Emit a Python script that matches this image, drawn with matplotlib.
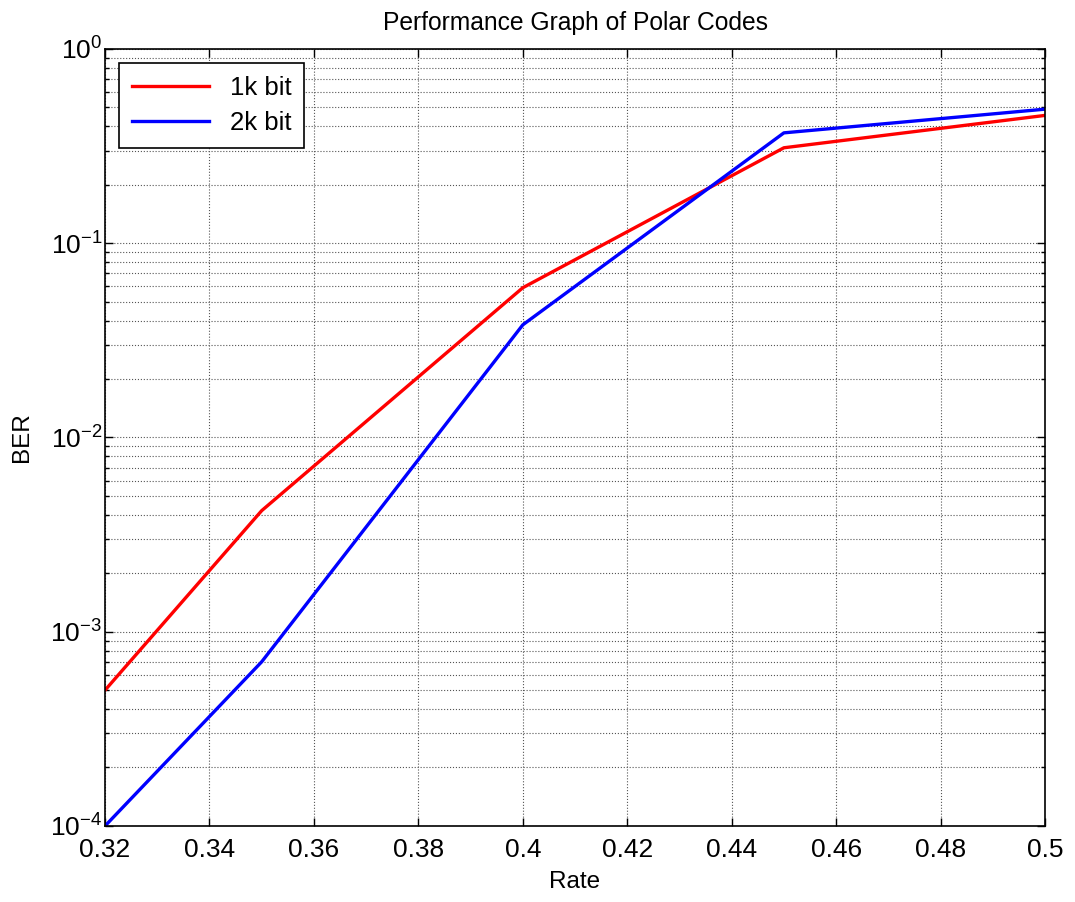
import matplotlib
matplotlib.use("Agg")
import matplotlib.pyplot as plt
from matplotlib.ticker import LogLocator, NullFormatter

plt.rcParams['font.family'] = ['Liberation Sans', 'DejaVu Sans']
plt.rcParams['mathtext.fontset'] = 'custom'
plt.rcParams['mathtext.rm'] = 'Liberation Sans'

# data
rate = [0.32, 0.35, 0.40, 0.45, 0.50]
ber_1k = [5.0e-4, 4.2e-3, 5.9e-2, 0.31, 0.455]
ber_2k = [1.0e-4, 7.0e-4, 3.8e-2, 0.37, 0.49]
xticks = [0.32, 0.34, 0.36, 0.38, 0.4, 0.42, 0.44, 0.46, 0.48, 0.5]
xticklabels = ["0.32", "0.34", "0.36", "0.38", "0.4", "0.42", "0.44", "0.46", "0.48", "0.5"]

fig = plt.figure(figsize=(10.75, 9.02), dpi=100)
ax = fig.add_axes([0.0977, 0.0843, 0.8744, 0.8614])

ax.semilogy(rate, ber_1k, color='#ff0000', lw=2.4, label='1k bit')
ax.semilogy(rate, ber_2k, color='#0000ff', lw=2.4, label='2k bit')

ax.set_xlim(0.32, 0.5)
ax.set_ylim(1e-4, 1)
ax.set_xticks(xticks)
ax.set_xticklabels(xticklabels)
ax.yaxis.set_major_locator(LogLocator(base=10, numticks=10))
ax.yaxis.set_minor_locator(LogLocator(base=10, subs=range(2, 10), numticks=20))
ax.yaxis.set_minor_formatter(NullFormatter())

ax.grid(True, which='major', color='#555555', linestyle=':', linewidth=0.8)
ax.grid(True, which='minor', axis='y', color='#555555', linestyle=':', linewidth=0.8)

ax.tick_params(which='both', direction='in', top=True, right=True, labelsize=19, width=1)
ax.tick_params(axis='x', pad=9)
ax.tick_params(axis='y', pad=2)
ax.tick_params(which='major', length=6)
ax.tick_params(which='minor', length=3)
for s in ax.spines.values():
    s.set_linewidth(1.2)

ax.set_title("Performance Graph of Polar Codes", fontsize=17.7, pad=14)
ax.set_xlabel("Rate", fontsize=17.5, labelpad=6)
ax.set_ylabel("BER", fontsize=17.5, labelpad=12)

leg = ax.legend(loc='upper left', fontsize=18.5, fancybox=False, framealpha=1,
                edgecolor='black', borderpad=0.5, handlelength=3.0, labelspacing=0.45,
                borderaxespad=0, bbox_to_anchor=(0.0149, 0.982))
leg.get_frame().set_linewidth(1.2)

fig.savefig("out.png", dpi=100)
